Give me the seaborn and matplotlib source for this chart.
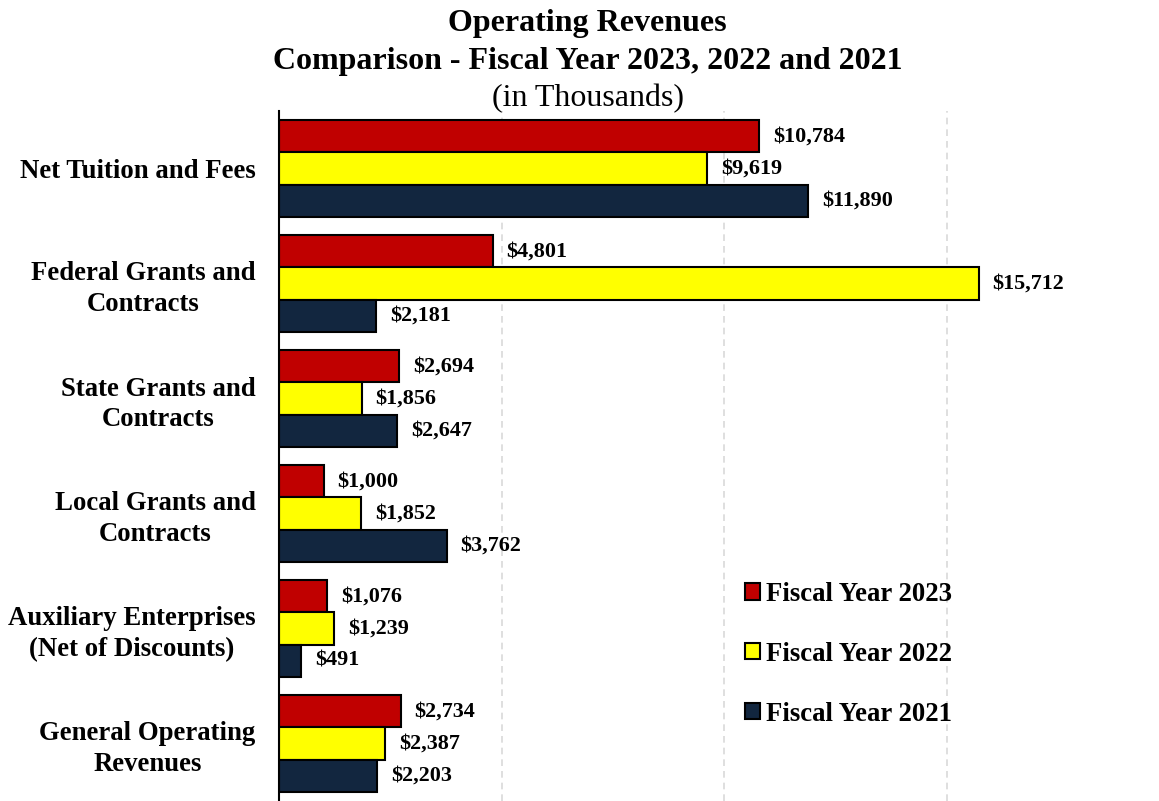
import matplotlib
matplotlib.use("Agg")
import matplotlib.pyplot as plt
import seaborn as sns
import pandas as pd
import numpy as np

categories = ["Net Tuition and Fees", "Federal Grants and\nContracts", "State Grants and\nContracts",
              "Local Grants and\nContracts", "Auxiliary Enterprises\n(Net of Discounts)", "General Operating\nRevenues"]
series = ["Fiscal Year 2023", "Fiscal Year 2022", "Fiscal Year 2021"]
fy2023 = [10784, 4801, 2694, 1000, 1076, 2734]
fy2022 = [9619, 15712, 1856, 1852, 1239, 2387]
fy2021 = [11890, 2181, 2647, 3762, 491, 2203]
colors = ["#C00000", "#FFFF00", "#12263F"]

rows = []
for s, vals in zip(series, [fy2023, fy2022, fy2021]):
    for c, v in zip(categories, vals):
        rows.append({"Category": c, "Series": s, "Value": v})
df = pd.DataFrame(rows)

sns.set_style("white")
plt.rcParams['font.family'] = ['Liberation Serif', 'DejaVu Serif']
plt.rcParams['text.color'] = 'black'
plt.rcParams['axes.labelcolor'] = 'black'
plt.rcParams['xtick.color'] = 'black'
plt.rcParams['ytick.color'] = 'black'

fig = plt.figure(figsize=(11.59, 8.01), dpi=100)
ax = fig.add_axes([279/1159, 0.0, (1150-279)/1159, 1 - 111/801])

sns.barplot(data=df, y="Category", x="Value", hue="Series", order=categories, hue_order=series,
            palette=colors, orient="h", width=0.84, edgecolor="black", linewidth=1.5,
            ax=ax, errorbar=None, saturation=1)

ax.set_xlim(0, 19560)
ax.set_xticks([5000, 10000, 15000])
ax.set_xticklabels([])
ax.tick_params(axis="x", length=0)
ax.grid(axis="x", color="#D9D9D9", linestyle=(0, (4, 3)), linewidth=1.2)
ax.set_axisbelow(True)
ax.set_xlabel("")
ax.set_ylabel("")

for sp in ["top", "right", "bottom"]:
    ax.spines[sp].set_visible(False)
ax.spines["left"].set_color("black")
ax.spines["left"].set_linewidth(1.5)

ax.set_yticks(range(len(categories)))
ax.set_yticklabels(categories, fontsize=19.3, fontweight="bold", multialignment="center",
                   linespacing=1.3, color="black")
ax.tick_params(axis="y", which="major", length=0, pad=17)
ax.set_yticks(np.arange(-0.5, len(categories), 1.0), minor=True)
ax.tick_params(axis="y", which="minor", length=6, width=1.5, color="black", direction="out")
ax.set_ylim(len(categories) - 0.5, -0.5)

for cont in ax.containers:
    ax.bar_label(cont, labels=[f"${w:,.0f}" for w in cont.datavalues], padding=10,
                 fontsize=15.9, fontweight="bold", color="black")

leg = ax.legend(loc="upper left", bbox_to_anchor=((745-279)/(1150-279), (801-582)/690),
                frameon=False, prop={"weight": "bold", "size": 19.3},
                handlelength=0.55, handleheight=0.55, handletextpad=0.22, labelspacing=1.3,
                borderpad=0, borderaxespad=0)
for t in leg.get_texts():
    t.set_color("black")

fig.text(0.507, 1 - 24/801, "Operating Revenues", ha="center", va="center", fontsize=23, fontweight="bold")
fig.text(0.507, 1 - 61/801, "Comparison - Fiscal Year 2023, 2022 and 2021", ha="center", va="center",
         fontsize=23, fontweight="bold")
fig.text(0.507, 1 - 99/801, "(in Thousands)", ha="center", va="center", fontsize=23)

fig.savefig("out.png", dpi=100)
